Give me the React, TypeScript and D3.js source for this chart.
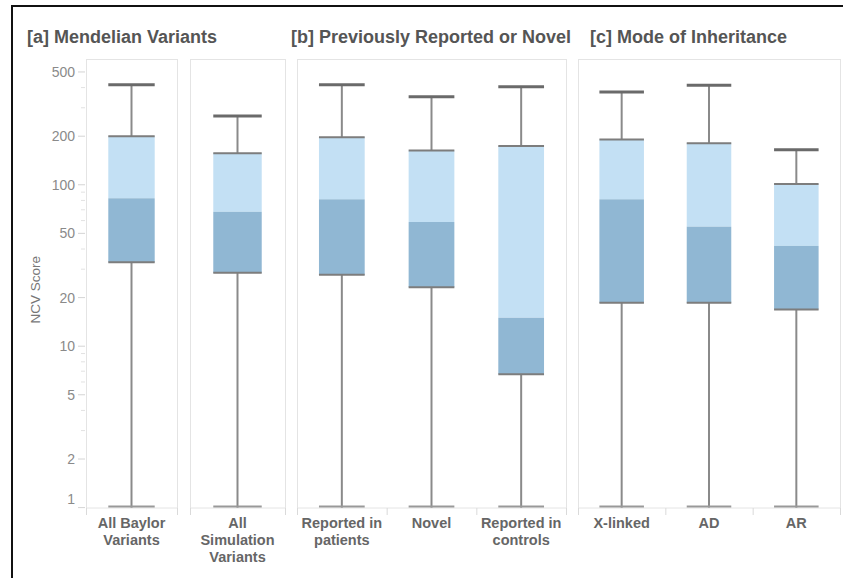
import React from "react";
import * as d3 from "d3";

// Panel titles
const groupTitles = [
  "[a] Mendelian Variants",
  "[b] Previously Reported or Novel",
  "[c] Mode of Inheritance",
];

// Categories (multi-line labels) and the pane each one sits in
const categories = [
  ["All Baylor", "Variants"],
  ["All", "Simulation", "Variants"],
  ["Reported in", "patients"],
  ["Novel"],
  ["Reported in", "controls"],
  ["X-linked"],
  ["AD"],
  ["AR"],
];
const paneOfCategory = [0, 1, 2, 2, 2, 3, 3, 3];

// Box-plot statistics (NCV score)
const whiskerHigh = [417, 267, 417, 351, 405, 376, 413, 165];
const upperQuartile = [200, 157, 197, 163, 174, 191, 181, 101];
const medians = [82.5, 68, 81.3, 58.8, 15, 81.3, 55, 41.8];
const lowerQuartile = [33.1, 28.5, 27.7, 23.2, 6.7, 18.6, 18.6, 16.9];
const whiskerLow = [1, 1, 1, 1, 1, 1, 1, 1];

const yTicks = [1, 2, 5, 10, 20, 50, 100, 200, 500];
const yTitle = "NCV Score";

const W = 843;
const H = 578;

// Pane horizontal extents
const paneExtents: [number, number][] = [
  [86, 177],
  [190, 285],
  [297, 566],
  [578, 840],
];
const titleX = [27, 291, 590];
const paneTop = 59.5;
const paneBottom = 508;

const LIGHT = "#c3e0f4";
const DARK = "#90b7d3";

export default function App() {
  const y = d3.scaleLog().domain([1, 593]).range([507.6, 60]);

  // one band scale per pane
  const bandScales = paneExtents.map((ext, p) => {
    const cats = paneOfCategory
      .map((pp, i) => (pp === p ? i : -1))
      .filter((i) => i >= 0)
      .map(String);
    return d3.scaleBand<string>().domain(cats).range(ext).padding(0);
  });

  const minorTicks: number[] = [];
  for (const dec of [1, 10, 100]) {
    for (let m = 2; m <= 9; m++) {
      const v = m * dec;
      if (v <= 593 && !yTicks.includes(v)) minorTicks.push(v);
    }
  }

  const font = "'Liberation Sans', Arial, Helvetica, sans-serif";

  return (
    <svg
      width={W}
      height={H}
      viewBox={`0 0 ${W} ${H}`}
      style={{ position: "absolute", left: 0, top: 0, display: "block", background: "#fff" }}
      fontFamily={font}
    >
      <rect x={0} y={0} width={W} height={H} fill="#fff" />
      {/* frame */}
      <path d={`M12,${H} V6 H${W}`} fill="none" stroke="#111" strokeWidth={2} />

      {/* titles */}
      {groupTitles.map((t, i) => (
        <text key={t} x={titleX[i]} y={43} fontSize={18} fontWeight="bold" fill="#555">
          {t}
        </text>
      ))}

      {/* pane frames */}
      {paneExtents.map(([x0, x1], i) => (
        <rect
          key={i}
          x={x0 + 0.5}
          y={paneTop}
          width={x1 - x0}
          height={paneBottom - paneTop}
          fill="none"
          stroke="#e4e4e4"
          strokeWidth={1}
        />
      ))}

      {/* y axis */}
      <g>
        {minorTicks.map((v) => (
          <line key={"m" + v} x1={81} x2={85} y1={y(v)} y2={y(v)} stroke="#e2e2e2" />
        ))}
        {yTicks.map((v, i) => (
          <g key={v}>
            <line x1={78} x2={85} y1={y(v)} y2={y(v)} stroke="#d4d4d4" />
            <text
              x={75}
              y={y(v) - (i === 0 ? 9 : 0)}
              dy="0.35em"
              textAnchor="end"
              fontSize={14}
              fill="#8a8a8a"
            >
              {v}
            </text>
          </g>
        ))}
        <text
          transform={`translate(40,${(y(1) + y(593)) / 2 + 6}) rotate(-90)`}
          textAnchor="middle"
          fontSize={13.5}
          fill="#777"
        >
          {yTitle}
        </text>
      </g>

      {/* bottom axis ticks at band edges */}
      {bandScales.map((bs, p) => {
        const edges = [...bs.domain().map((d) => bs(d) as number), paneExtents[p][1]];
        return edges.map((ex, k) => (
          <line
            key={p + "-" + k}
            x1={ex + 0.5}
            x2={ex + 0.5}
            y1={paneBottom}
            y2={paneBottom + 7}
            stroke="#dadada"
          />
        ));
      })}

      {/* boxes */}
      {categories.map((lines, i) => {
        const bs = bandScales[paneOfCategory[i]];
        const bw = bs.bandwidth();
        const cx = (bs(String(i)) as number) + bw / 2;
        const w = bw * 0.51;
        const x0 = cx - w / 2;
        const yHi = y(whiskerHigh[i]);
        const yQ3 = y(upperQuartile[i]);
        const yMed = y(medians[i]);
        const yQ1 = y(lowerQuartile[i]);
        const yLo = y(whiskerLow[i]);
        return (
          <g key={i}>
            <line x1={cx} x2={cx} y1={yHi} y2={yQ3} stroke="#8a8a8a" strokeWidth={2} />
            <line x1={cx} x2={cx} y1={yQ1} y2={yLo} stroke="#8a8a8a" strokeWidth={2} />
            <rect x={x0} y={yQ3} width={w} height={yMed - yQ3} fill={LIGHT} />
            <rect x={x0} y={yMed} width={w} height={yQ1 - yMed} fill={DARK} />
            <line x1={x0} x2={x0 + w} y1={yQ3} y2={yQ3} stroke="#7d7d7d" strokeWidth={2} />
            <line x1={x0} x2={x0 + w} y1={yQ1} y2={yQ1} stroke="#7d7d7d" strokeWidth={2} />
            <line x1={x0} x2={x0 + w} y1={yHi} y2={yHi} stroke="#6a6a6a" strokeWidth={3} />
            <line x1={x0} x2={x0 + w} y1={yLo - 1} y2={yLo - 1} stroke="#999" strokeWidth={2} />
            <text textAnchor="middle" fontSize={14.5} fontWeight="bold" fill="#666">
              {lines.map((ln, k) => (
                <tspan key={k} x={cx} y={528 + k * 17}>
                  {ln}
                </tspan>
              ))}
            </text>
          </g>
        );
      })}
    </svg>
  );
}
